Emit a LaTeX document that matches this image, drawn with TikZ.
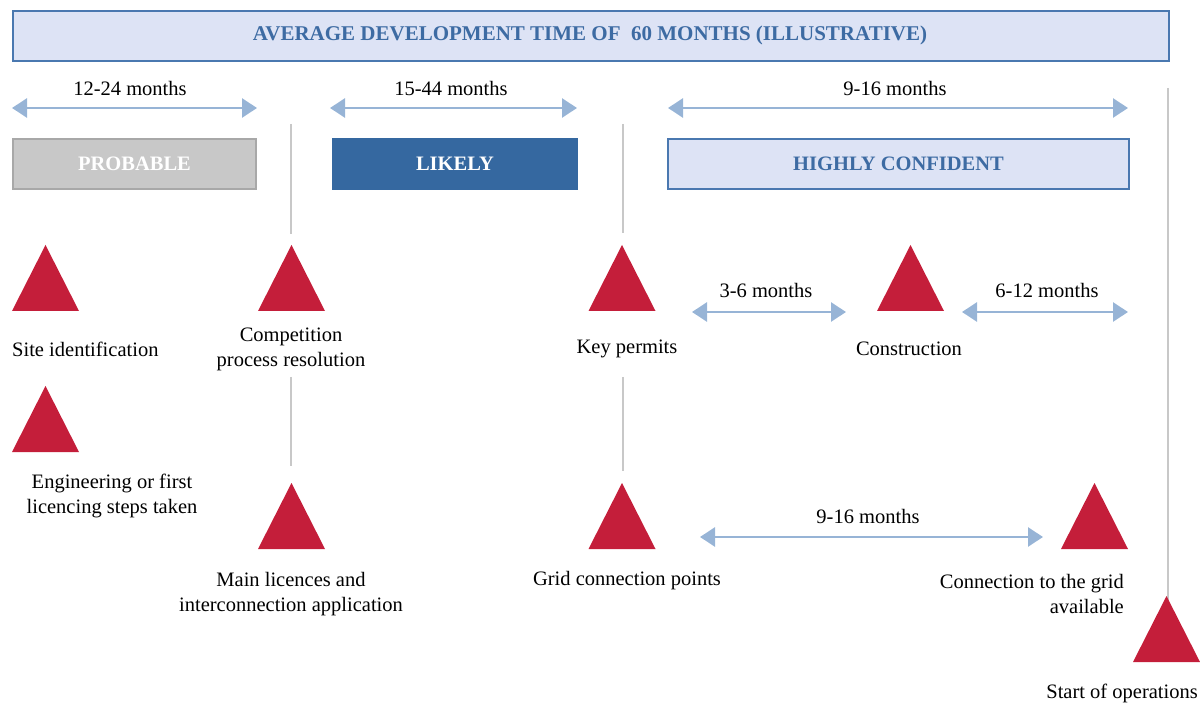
\documentclass[tikz,border=0pt]{standalone}
\usepackage{fontspec}
\setmainfont{Liberation Serif}
\usetikzlibrary{arrows.meta}
\definecolor{lav}{HTML}{DDE3F5}
\definecolor{bordblue}{HTML}{4A78B0}
\definecolor{txtblue}{HTML}{3D6BA3}
\definecolor{likelyblue}{HTML}{3568A0}
\definecolor{arrowblue}{HTML}{97B4D6}
\definecolor{probgray}{HTML}{C8C8C8}
\definecolor{probborder}{HTML}{A8A8A8}
\definecolor{tricol}{HTML}{C41E3A}
\definecolor{linegray}{HTML}{C8C8C8}
\tikzset{
  x=1pt, y=-1pt,
  bodytext/.style={font=\fontsize{20.5}{25}\selectfont, inner sep=0pt, text=black},
  headtext/.style={font=\fontsize{20.5}{24}\selectfont\bfseries, inner sep=0pt},
  boxbase/.style={draw, line width=2pt, inner sep=0pt},
  span/.style={draw=arrowblue, line width=2.6pt, {Triangle[length=15pt,width=19pt]}-{Triangle[length=15pt,width=19pt]}},
  divider/.style={draw=linegray, line width=2pt},
  milestone/.pic={\fill[tricol] (-33.5,0) coordinate (-bl) -- (0,-66) coordinate (-apex) -- (33.5,0) coordinate (-br) -- cycle;}
}
\begin{document}
\begin{tikzpicture}
\useasboundingbox (0,0) rectangle (1200,703);
% title banner
\node[boxbase, draw=bordblue, fill=lav, minimum width=1156pt, minimum height=50pt, anchor=north west] (banner) at (12,10) {};
\node[headtext, text=txtblue, font=\fontsize{21}{24}\selectfont\bfseries] (title) at (590,35) {AVERAGE DEVELOPMENT TIME OF \ 60 MONTHS (ILLUSTRATIVE)};
% span labels
\node[bodytext] (l1) at (130,88) {12-24 months};
\node[bodytext] (l2) at (451,88) {15-44 months};
\node[bodytext] (l3) at (895,88) {9-16 months};
% span arrows
\coordinate (a1s) at (12,108); \coordinate (a1e) at (257,108);
\coordinate (a2s) at (330,108); \coordinate (a2e) at (577,108);
\coordinate (a3s) at (668,108); \coordinate (a3e) at (1128,108);
\draw[span] (a1s) -- (a1e);
\draw[span] (a2s) -- (a2e);
\draw[span] (a3s) -- (a3e);
% confidence boxes
\node[boxbase, draw=probborder, fill=probgray, minimum width=243pt, minimum height=50pt, anchor=north west] (probable) at (12,138) {};
\node[headtext, text=white] (probt) at (probable.center) {PROBABLE};
\node[boxbase, draw=likelyblue, fill=likelyblue, minimum width=244pt, minimum height=50pt, anchor=north west] (likely) at (332,138) {};
\node[headtext, text=white] (likelyt) at (likely.center) {LIKELY};
\node[boxbase, draw=bordblue, fill=lav, minimum width=461pt, minimum height=50pt, anchor=north west] (confident) at (667,138) {};
\node[headtext, text=txtblue] (confidentt) at (confident.center) {HIGHLY CONFIDENT};
% dividers
\coordinate (d1a) at (291,124); \coordinate (d1b) at (291,234);
\coordinate (d2a) at (291,377); \coordinate (d2b) at (291,466);
\coordinate (d3a) at (623,124); \coordinate (d3b) at (623,233);
\coordinate (d4a) at (623,377); \coordinate (d4b) at (623,471);
\coordinate (d5a) at (1168,88); \coordinate (d5b) at (1168,607);
\draw[divider] (d1a) -- (d1b);
\draw[divider] (d2a) -- (d2b);
\draw[divider] (d3a) -- (d3b);
\draw[divider] (d4a) -- (d4b);
\draw[divider] (d5a) -- (d5b);
% milestones
\pic (site) at (45.5,311) {milestone};
\pic (comp) at (291.5,311) {milestone};
\pic (eng) at (45.5,452) {milestone};
\pic (main) at (291.5,549) {milestone};
\pic (key) at (622,311) {milestone};
\pic (cons) at (910.5,311) {milestone};
\pic (grid) at (622,549) {milestone};
\pic (conn) at (1094.5,549) {milestone};
\pic (start) at (1166.5,662) {milestone};
% milestone labels
\node[bodytext, anchor=west] (sitet) at (12,349) {Site identification};
\node[bodytext, align=center] (compt) at (291,349) {Competition\\process resolution};
\node[bodytext, align=center] (engt) at (112,496) {Engineering or first\\licencing steps taken};
\node[bodytext, align=center] (maint) at (291,594) {Main licences and\\interconnection application};
\node[bodytext] (keyt) at (627,349) {Key permits};
\node[bodytext] (const) at (909,349) {Construction};
\node[bodytext] (gridt) at (627,581) {Grid connection points};
\node[bodytext, align=right, anchor=east] (connt) at (1124,594) {Connection to the grid\\available};
\node[bodytext, anchor=east] (startt) at (1198,693) {Start of operations};
% inner spans
\node[bodytext] (l4) at (766,290) {3-6 months};
\node[bodytext] (l5) at (1047,290) {6-12 months};
\node[bodytext] (l6) at (868,516) {9-16 months};
\coordinate (a4s) at (692,312); \coordinate (a4e) at (846,312);
\coordinate (a5s) at (962,312); \coordinate (a5e) at (1128,312);
\coordinate (a6s) at (700,537); \coordinate (a6e) at (1043,537);
\draw[span] (a4s) -- (a4e);
\draw[span] (a5s) -- (a5e);
\draw[span] (a6s) -- (a6e);
\end{tikzpicture}
\end{document}
